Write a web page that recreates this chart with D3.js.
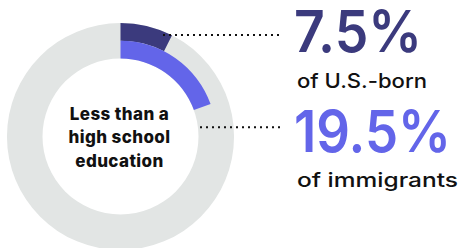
<!DOCTYPE html>
<html>
<head>
<meta charset="utf-8">
<script src="https://cdn.jsdelivr.net/npm/d3@7"></script>
<style>
  body { margin: 0; background: #fff; }
  svg { display: block; }
</style>
</head>
<body>
<svg width="461" height="248"></svg>
<script>
// share of adults with less than a high school education
const groups = ["U.S.-born", "immigrants"];
const shares = [7.5, 19.5];
const labels = ["of U.S.-born", "of immigrants"];
const centerLines = ["Less than a", "high school", "education"];

const colors = ["#3b3a7d", "#6365e9"];

const svg = d3.select("svg");
const cx = 120.5, cy = 136.5;
const outer = 113.5, inner = 78;

// angle scale: percent -> radians
const angle = d3.scaleLinear().domain([0, 100]).range([0, 2 * Math.PI]);
// each group gets its own band of the ring, first group outermost
const band = d3.scaleBand().domain(groups).range([outer, inner]);

const g = svg.append("g").attr("transform", `translate(${cx},${cy})`);

// grey background ring
g.append("path")
  .attr("d", d3.arc()({innerRadius: inner, outerRadius: outer, startAngle: 0, endAngle: 2 * Math.PI}))
  .attr("fill", "#e2e5e4");

const arc = d3.arc()
  .innerRadius((d, i) => band(groups[i]))
  .outerRadius((d, i) => band(groups[i]) + band.bandwidth())
  .startAngle(0)
  .endAngle(d => angle(d));

g.selectAll(".seg")
  .data(shares)
  .enter()
  .append("path")
  .classed("seg", true)
  .attr("d", (d, i) => arc(d, i))
  .attr("fill", (d, i) => colors[i]);

// center label
g.append("text")
  .attr("text-anchor", "middle")
  .attr("font-family", "Inter, sans-serif")
  .attr("font-weight", 800)
  .attr("font-size", 17)
  .attr("letter-spacing", 0.4)
  .attr("fill", "#111")
  .selectAll("tspan")
  .data(centerLines)
  .enter()
  .append("tspan")
  .attr("x", -1)
  .attr("y", (d, i) => -16.5 + i * 23.3)
  .text(d => d);

// leader lines
const leaders = [[163, 35], [200, 127.3]];
svg.selectAll(".leader")
  .data(groups)
  .enter()
  .append("line")
  .classed("leader", true)
  .attr("x1", (d, i) => leaders[i][0])
  .attr("x2", 281)
  .attr("y1", (d, i) => leaders[i][1])
  .attr("y2", (d, i) => leaders[i][1])
  .attr("stroke", "#111")
  .attr("stroke-width", 2)
  .attr("stroke-dasharray", "2,4");

// big numbers
const numY = [51.7, 151.7];
const numW = [128, 157];
svg.selectAll(".num")
  .data(shares)
  .enter()
  .append("text")
  .classed("num", true)
  .attr("x", 294)
  .attr("y", (d, i) => numY[i])
  .attr("font-family", "Inter, sans-serif")
  .attr("font-weight", 600)
  .attr("font-size", 58)
  .attr("textLength", (d, i) => numW[i])
  .attr("lengthAdjust", "spacingAndGlyphs")
  .attr("fill", (d, i) => colors[i])
  .text(d => d3.format(".1f")(d) + "%");

const labY = [88.3, 187.3];
const labW = [130, 161];
svg.selectAll(".lab")
  .data(labels)
  .enter()
  .append("text")
  .classed("lab", true)
  .attr("x", 297)
  .attr("y", (d, i) => labY[i])
  .attr("font-family", "Inter, sans-serif")
  .attr("font-weight", 500)
  .attr("font-size", 20)
  .attr("textLength", (d, i) => labW[i])
  .attr("lengthAdjust", "spacingAndGlyphs")
  .attr("fill", "#111")
  .text(d => d);
</script>
</body>
</html>
